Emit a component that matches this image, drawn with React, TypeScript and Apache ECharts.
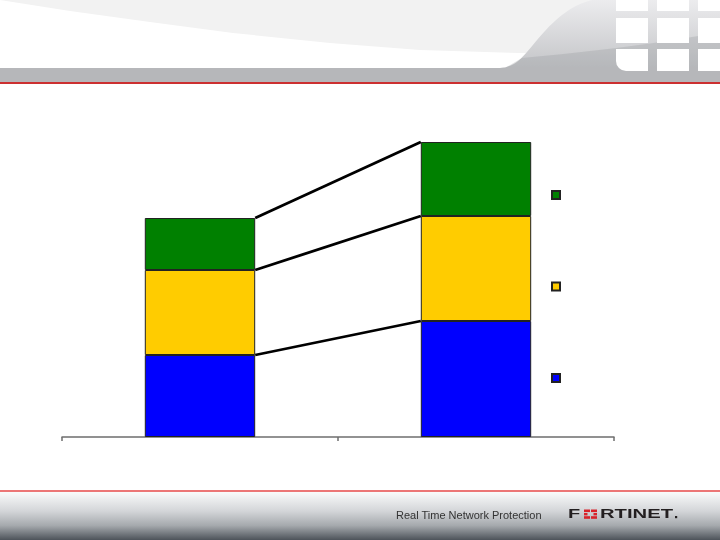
import React, { useEffect, useRef } from 'react';
import * as echarts from 'echarts';

const categories = ['Before', 'After'];
const seriesNames = ['Series 1', 'Series 2', 'Series 3'];
const blueValues = [82, 116];
const yellowValues = [85, 105];
const greenValues = [52, 74];
const seriesColors = ['#0000ff', '#ffcc00', '#008000'];
const footerText = 'Real Time Network Protection';

// header swoosh outlines
const swooshPath = 'M592,0 C560,8 542,35 527,52 C519,61 513,67 500,68 L720,68 L720,0 Z';
const streakPath = 'M522,58 C590,52 670,42 720,32 L720,68 L505,68 Z';
echarts.graphic.registerShape('swoosh', echarts.graphic.extendPath(swooshPath, {}));
echarts.graphic.registerShape('streak', echarts.graphic.extendPath(streakPath, {}));

const App: React.FC = () => {
  const chartRef = useRef<HTMLDivElement>(null);

  useEffect(() => {
    if (!chartRef.current) return;
    const chart = echarts.init(chartRef.current, null, { renderer: 'svg' });

    const stacks = [blueValues, yellowValues, greenValues];
    // cumulative tops of each segment, for the series lines
    const levels = stacks.map((_, i) =>
      categories.map((__, c) => stacks.slice(0, i + 1).reduce((s, arr) => s + arr[c], 0))
    );

    const gridCols = [616, 657, 698];
    const gridW = [32, 32, 30];
    const gridRows = [0, 18, 49];
    const gridH = [11, 25, 22];
    const squares: any[] = [];
    gridRows.forEach((y, r) =>
      gridCols.forEach((x, c) => {
        squares.push({
          type: 'rect',
          shape: { x, y, width: gridW[c], height: gridH[r], r: r === 2 && c === 0 ? [0, 0, 0, 10] : 0 },
          style: { fill: '#ffffff' },
        });
      })
    );

    const redPieces = [
      [584, 509.5, 6, 2.6], [591, 509.5, 6, 2.6],
      [584, 513, 3.5, 2.4], [593.5, 513, 3.5, 2.4],
      [584, 516.2, 6, 2.6], [591, 516.2, 6, 2.6],
    ].map(([x, y, w, h]) => ({
      type: 'rect',
      shape: { x, y, width: w, height: h },
      style: { fill: '#d8232a' },
    }));

    const option: any = {
      animation: false,
      grid: { left: 62, right: 106, top: 137, bottom: 103 },
      xAxis: {
        type: 'category',
        data: categories,
        axisLine: { lineStyle: { color: '#6e6e6e', width: 1.5 } },
        axisTick: { show: true, length: 4, lineStyle: { color: '#6e6e6e', width: 1.5 } },
        axisLabel: { show: false },
      },
      yAxis: { type: 'value', min: 0, max: 300, show: false, splitLine: { show: false } },
      legend: {
        orient: 'vertical',
        left: 551,
        top: 190,
        padding: 0,
        itemWidth: 8,
        itemHeight: 8,
        itemGap: 81.5,
        icon: 'rect',
        data: [seriesNames[2], seriesNames[1], seriesNames[0]],
        formatter: () => '',
        textStyle: { fontSize: 8 },
      },
      series: [
        ...stacks.map((values, i) => ({
          name: seriesNames[i],
          type: 'bar',
          stack: 'total',
          barWidth: '40%',
          data: values,
          itemStyle: { color: seriesColors[i], borderColor: '#222', borderWidth: 1 },
        })),
        {
          type: 'custom',
          name: 'series lines',
          encode: { x: 0, y: [1, 2] },
          data: levels.map((lv) => [0, lv[0], lv[1]]),
          z: 5,
          renderItem: (params: any, api: any) => {
            const p0 = api.coord([0, api.value(1)]);
            const p1 = api.coord([1, api.value(2)]);
            const half = api.size([1, 0])[0] * 0.2;
            return {
              type: 'line',
              shape: { x1: p0[0] + half, y1: p0[1], x2: p1[0] - half, y2: p1[1] },
              style: { stroke: '#000', lineWidth: 2.8 },
            };
          },
        },
      ],
      graphic: [
        {
          type: 'polygon',
          shape: { points: [[0, 0], [720, 0], [720, 54], [520, 53], [420, 50], [330, 43], [233, 33], [150, 22], [70, 11], [0, 0]] },
          style: { fill: '#f2f2f2' },
        },
        {
          type: 'swoosh',
          style: {
            fill: new echarts.graphic.LinearGradient(0, 0, 0, 1, [
              { offset: 0, color: '#ececee' },
              { offset: 1, color: '#c4c5c8' },
            ]),
          },
        },
        { type: 'streak', style: { fill: 'rgba(150,151,156,0.3)' } },
        { type: 'rect', shape: { x: 0, y: 68, width: 720, height: 14 }, style: { fill: '#b6b7ba' } },
        ...squares,
        { type: 'rect', shape: { x: 0, y: 82, width: 720, height: 2 }, style: { fill: '#cc3030' } },
        { type: 'rect', shape: { x: 0, y: 490, width: 720, height: 2 }, style: { fill: '#ec7676' } },
        {
          type: 'rect',
          shape: { x: 0, y: 492, width: 720, height: 48 },
          style: {
            fill: new echarts.graphic.LinearGradient(0, 0, 0, 1, [
              { offset: 0, color: '#fafbfb' },
              { offset: 0.4, color: '#d3d5d8' },
              { offset: 0.7, color: '#a5a9ad' },
              { offset: 1, color: '#4d535a' },
            ]),
          },
        },
        {
          type: 'text',
          x: 396,
          y: 515,
          style: {
            text: footerText,
            fill: '#333',
            font: '11px "Liberation Sans", Arial, sans-serif',
            verticalAlign: 'middle',
          },
        },
        {
          type: 'text',
          x: 568,
          y: 514,
          scaleX: 1.6,
          style: { text: 'F', fill: '#231f20', font: 'bold 12.5px "Liberation Sans", Arial, sans-serif', verticalAlign: 'middle' },
        },
        ...redPieces,
        {
          type: 'text',
          x: 600,
          y: 514,
          scaleX: 1.62,
          style: { text: 'RTINET', fill: '#231f20', font: 'bold 12.5px "Liberation Sans", Arial, sans-serif', verticalAlign: 'middle' },
        },
        { type: 'rect', shape: { x: 675, y: 516, width: 2.2, height: 2.2 }, style: { fill: '#231f20' } },
      ],
    };

    chart.setOption(option);
    return () => {
      chart.dispose();
    };
  }, []);

  return <div ref={chartRef} style={{ position: 'fixed', left: 0, top: 0, width: 720, height: 540 }} />;
};

export default App;
